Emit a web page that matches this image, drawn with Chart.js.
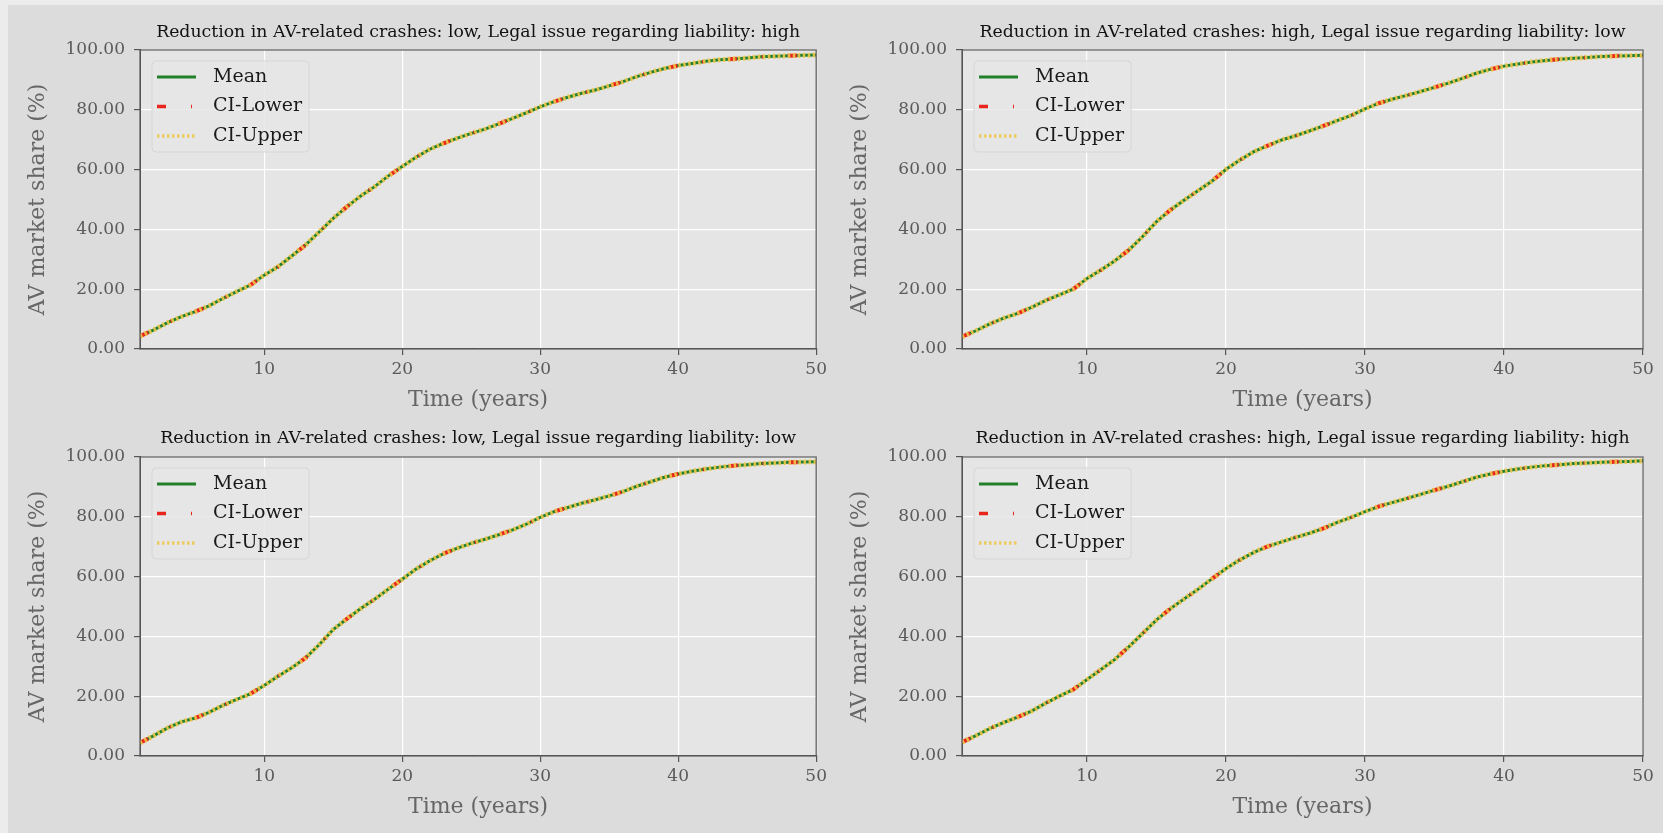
<!DOCTYPE html>
<html>
<head>
<meta charset="utf-8">
<script src="https://cdn.jsdelivr.net/npm/chart.js@4.4.0/dist/chart.umd.min.js"></script>
<style>
html, body { margin: 0; padding: 0; width: 1663px; height: 833px; overflow: hidden; background: #ececec; }
#fig { position: absolute; left: 8px; top: 5px; right: 0; bottom: 0; background: #dcdcdc; }
.panel { position: absolute; }
</style>
</head>
<body>
<div id="fig"></div>
<div class="panel" style="left:9px;top:0;width:822px;height:416px"><canvas id="c0"></canvas></div>
<div class="panel" style="left:831px;top:0;width:832px;height:416px"><canvas id="c1"></canvas></div>
<div class="panel" style="left:9px;top:416px;width:822px;height:417px"><canvas id="c2"></canvas></div>
<div class="panel" style="left:831px;top:416px;width:832px;height:417px"><canvas id="c3"></canvas></div>
<script>
// years on the x axis
const years = [1, 2, 3, 4, 5, 6, 7, 8, 9, 10, 11, 12, 13, 14, 15, 16, 17, 18, 19, 20,
    21, 22, 23, 24, 25, 26, 27, 28, 29, 30, 31, 32, 33, 34, 35, 36, 37, 38, 39, 40,
    41, 42, 43, 44, 45, 46, 47, 48, 49, 50];
const xTicks = [10, 20, 30, 40, 50];
const yTicks = [0, 20, 40, 60, 80, 100];

const panelTitles = [
    'Reduction in AV-related crashes: low, Legal issue regarding liability: high',
    'Reduction in AV-related crashes: high, Legal issue regarding liability: low',
    'Reduction in AV-related crashes: low, Legal issue regarding liability: low',
    'Reduction in AV-related crashes: high, Legal issue regarding liability: high'
];
const seriesNames = ['Mean', 'CI-Lower', 'CI-Upper'];

// AV market share (%)
const meanLowHigh = [4.3, 6.4, 8.8, 10.8, 12.5, 14.4, 16.9, 19.2, 21.4, 24.7,
    27.5, 31.1, 34.8, 39.2, 43.7, 47.6, 51.2, 54.3, 57.9, 61.0,
    64.1, 66.8, 68.8, 70.5, 72.1, 73.5, 75.3, 77.1, 79.0, 81.0,
    82.7, 84.2, 85.5, 86.6, 88.0, 89.4, 91.1, 92.5, 93.8, 94.8,
    95.5, 96.2, 96.7, 97.0, 97.3, 97.7, 97.9, 98.1, 98.2, 98.3];
const meanHighLow = [4.1, 6.1, 8.4, 10.3, 11.9, 13.9, 16.2, 18.1, 20.0, 23.6,
    26.4, 29.5, 33.1, 37.6, 42.6, 46.5, 49.8, 53.0, 56.2, 60.1,
    63.2, 66.0, 68.0, 69.9, 71.3, 72.9, 74.6, 76.4, 78.1, 80.3,
    82.2, 83.6, 84.8, 86.1, 87.5, 88.9, 90.5, 92.2, 93.5, 94.6,
    95.3, 96.0, 96.5, 96.9, 97.2, 97.5, 97.8, 98.0, 98.1, 98.2];
const meanLowLow = [4.4, 6.8, 9.4, 11.4, 12.7, 14.6, 16.9, 18.9, 20.8, 23.6,
    26.7, 29.5, 32.8, 37.3, 42.3, 45.9, 49.3, 52.4, 55.8, 59.1,
    62.5, 65.3, 67.7, 69.5, 71.1, 72.5, 74.0, 75.6, 77.5, 79.8,
    81.7, 83.1, 84.5, 85.7, 87.0, 88.4, 90.2, 91.7, 93.2, 94.3,
    95.2, 96.0, 96.6, 97.1, 97.4, 97.8, 98.0, 98.2, 98.3, 98.4];
const meanHighHigh = [4.6, 6.8, 9.2, 11.2, 13.0, 15.0, 17.6, 20.0, 22.2, 25.6,
    28.9, 32.3, 36.5, 41.0, 45.5, 49.3, 52.6, 55.8, 59.3, 62.7,
    65.6, 68.1, 70.1, 71.6, 73.1, 74.5, 76.1, 78.1, 79.8, 81.7,
    83.5, 84.8, 86.1, 87.5, 88.9, 90.2, 91.7, 93.2, 94.3, 95.2,
    96.0, 96.6, 97.1, 97.4, 97.8, 98.0, 98.2, 98.4, 98.5, 98.7];
// the CI bounds sit on top of the mean at this scale, so they reuse the mean readings
const lowerLowHigh = meanLowHigh, upperLowHigh = meanLowHigh;
const lowerHighLow = meanHighLow, upperHighLow = meanHighLow;
const lowerLowLow = meanLowLow, upperLowLow = meanLowLow;
const lowerHighHigh = meanHighHigh, upperHighHigh = meanHighHigh;

const FONT = "'DejaVu Serif', serif";
const styles = [
    { color: '#23802a', dash: [], width: 3 },
    { color: '#e8261c', dash: [9, 25, 1, 25], width: 4 },
    { color: 'rgba(238,200,80,0.9)', dash: [2.5, 2.5], width: 5 }
];

const axesBg = {
    id: 'axesBg',
    beforeDraw(chart) {
        const { ctx, chartArea: a } = chart;
        ctx.save();
        ctx.fillStyle = '#e5e5e5';
        ctx.fillRect(a.left, a.top, a.width, a.height);
        ctx.restore();
    },
    afterDatasetsDraw(chart) {
        const { ctx, chartArea: a } = chart;
        ctx.save();
        ctx.strokeStyle = '#555555';
        ctx.lineWidth = 1.2;
        ctx.strokeRect(a.left, a.top, a.width, a.height);
        ctx.restore();
    }
};

// matplotlib-like legend inside the axes, upper left
const insideLegend = {
    id: 'insideLegend',
    afterDraw(chart) {
        const { ctx, chartArea: a } = chart;
        const x0 = a.left + 12, y0 = a.top + 11, w = 157, h = 91;
        ctx.save();
        ctx.beginPath();
        ctx.roundRect(x0, y0, w, h, 4);
        ctx.fillStyle = 'rgba(230,230,230,0.85)';
        ctx.fill();
        ctx.strokeStyle = '#d6d6d6';
        ctx.lineWidth = 1;
        ctx.stroke();
        chart.data.datasets.forEach((ds, i) => {
            const cy = y0 + 16 + i * 29.5;
            ctx.beginPath();
            ctx.setLineDash(ds.borderDash || []);
            ctx.strokeStyle = ds.borderColor;
            ctx.lineWidth = Math.min(ds.borderWidth, 3.5);
            ctx.moveTo(x0 + 5, cy);
            ctx.lineTo(x0 + 44, cy);
            ctx.stroke();
            ctx.setLineDash([]);
            ctx.fillStyle = '#1a1a1a';
            ctx.font = '19px ' + FONT;
            ctx.textBaseline = 'middle';
            ctx.fillText(ds.label, x0 + 61, cy);
        });
        ctx.restore();
    }
};

function makePanel(id, title, seriesList, geo) {
    const datasets = seriesList.map((vals, i) => ({
        label: seriesNames[i],
        data: years.map((yr, k) => ({ x: yr, y: vals[k] })),
        borderColor: styles[i].color,
        borderDash: styles[i].dash,
        borderWidth: styles[i].width,
        pointRadius: 0,
        tension: 0,
        fill: false,
        order: 3 - i
    }));
    new Chart(document.getElementById(id), {
        type: 'line',
        data: { datasets },
        options: {
            responsive: true,
            maintainAspectRatio: false,
            animation: false,
            layout: { padding: { left: 0, right: geo.padRight, top: 0, bottom: 0 } },
            scales: {
                x: {
                    type: 'linear', min: 1, max: 50,
                    afterBuildTicks: s => { s.ticks = xTicks.map(v => ({ value: v })); },
                    afterFit: s => { s.height = geo.xAxisH; },
                    grid: { color: '#ffffff', lineWidth: 1.2, tickLength: 6, tickColor: '#555555' },
                    border: { display: true, color: '#555555', width: 1 },
                    ticks: { color: '#5a5a5a', font: { family: FONT, size: 17 }, padding: 4, maxRotation: 0, autoSkip: false },
                    title: { display: true, text: 'Time (years)', color: '#666666', font: { family: FONT, size: 22 }, padding: { top: 0, bottom: geo.xTitlePb } }
                },
                y: {
                    type: 'linear', min: 0, max: 100,
                    afterBuildTicks: s => { s.ticks = yTicks.map(v => ({ value: v })); },
                    afterFit: s => { s.width = 131; },
                    grid: { color: '#ffffff', lineWidth: 1.2, tickLength: 6, tickColor: '#555555' },
                    border: { display: true, color: '#555555', width: 1 },
                    ticks: { color: '#5a5a5a', font: { family: FONT, size: 17 }, padding: 9, callback: v => v.toFixed(2) },
                    title: { display: true, text: 'AV market share (%)', color: '#666666', font: { family: FONT, size: 22 }, padding: { top: 16, bottom: 0 } }
                }
            },
            plugins: {
                legend: { display: false },
                tooltip: { enabled: false },
                title: {
                    display: true, text: title, fullSize: false, color: '#111111',
                    font: { family: FONT, size: 17.3, weight: 'normal' },
                    padding: { top: geo.titlePt, bottom: geo.titlePb }
                }
            }
        },
        plugins: [axesBg, insideLegend]
    });
}

const topGeo = { titlePt: 22, titlePb: 7.2, xAxisH: 67, xTitlePb: 3 };
const botGeo = { titlePt: 12, titlePb: 8.2, xAxisH: 77, xTitlePb: 13 };

makePanel('c0', panelTitles[0], [meanLowHigh, lowerLowHigh, upperLowHigh], { ...topGeo, padRight: 12 });
makePanel('c1', panelTitles[1], [meanHighLow, lowerHighLow, upperHighLow], { ...topGeo, padRight: 20 });
makePanel('c2', panelTitles[2], [meanLowLow, lowerLowLow, upperLowLow], { ...botGeo, padRight: 12 });
makePanel('c3', panelTitles[3], [meanHighHigh, lowerHighHigh, upperHighHigh], { ...botGeo, padRight: 20 });
</script>
</body>
</html>
